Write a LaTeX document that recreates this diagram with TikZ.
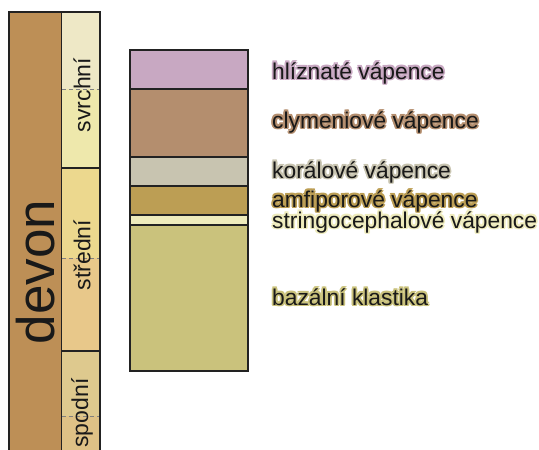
\documentclass[tikz,border=0pt]{standalone}
\usepackage{fontspec}
\setmainfont{Liberation Sans}
\definecolor{devonc}{HTML}{BD8F56}
\definecolor{svrA}{HTML}{EEE8C6}
\definecolor{svrB}{HTML}{EEE8AC}
\definecolor{strA}{HTML}{ECD88E}
\definecolor{strB}{HTML}{E8C88A}
\definecolor{spoA}{HTML}{DEC98E}
\definecolor{spoB}{HTML}{DEC186}
\definecolor{hliz}{HTML}{C8A8C2}
\definecolor{clym}{HTML}{B48E6E}
\definecolor{kora}{HTML}{C8C4B0}
\definecolor{amfi}{HTML}{BC9E54}
\definecolor{stri}{HTML}{EEEBBC}
\definecolor{baza}{HTML}{CAC27C}
\definecolor{frame}{HTML}{222222}
\newcommand{\hlcopy}[3]{\rlap{\kern#1\raisebox{#2}{#3}}}
\newcommand{\halotext}[2]{{\color{#1}%
  \hlcopy{1.8pt}{0pt}{#2}\hlcopy{-1.8pt}{0pt}{#2}%
  \hlcopy{0pt}{1.8pt}{#2}\hlcopy{0pt}{-1.8pt}{#2}%
  \hlcopy{1.3pt}{1.3pt}{#2}\hlcopy{-1.3pt}{1.3pt}{#2}%
  \hlcopy{1.3pt}{-1.3pt}{#2}\hlcopy{-1.3pt}{-1.3pt}{#2}}#2}
\begin{document}
\begin{tikzpicture}[x=1pt,y=-1pt,
  box/.style={draw=frame,line width=1.6pt},
  tick/.style={draw=gray,line width=1pt,dash pattern=on 4pt off 3pt},
  lbl/.style={anchor=base west,inner sep=0pt,text=black!90,font=\fontsize{22.8}{25}\selectfont},
  vlbl/.style={rotate=90,inner sep=0pt,text=black!90,font=\fontsize{23}{25}\selectfont}]
\useasboundingbox (0,0) rectangle (539,450);
% left column: devon
\fill[devonc] (9,12) rectangle (62,460);
\draw[box] (9,460) -- (9,12) -- (62,12) -- (62,460);
\node[vlbl,font=\fontsize{53}{53}\selectfont] (devon) at (36,272) {devon};
% right column: epochs
\fill[svrA] (62,12) rectangle (100,89);
\fill[svrB] (62,89) rectangle (100,168);
\fill[strA] (62,168) rectangle (100,258);
\fill[strB] (62,258) rectangle (100,351);
\fill[spoA] (62,351) rectangle (100,416);
\fill[spoB] (62,416) rectangle (100,460);
\draw[tick] (62,89) -- (100,89);
\draw[tick] (62,258) -- (100,258);
\draw[tick] (62,416) -- (100,416);
\draw[box] (62,12) -- (100,12) -- (100,460);
\draw[box] (62,168) -- (100,168);
\draw[box] (62,351) -- (100,351);
\node[vlbl] (svrchni) at (82,95) {svrchní};
\node[vlbl] (stredni) at (82,255) {střední};
\node[vlbl] (spodni) at (82,413) {spodní};
% middle column: layers
\fill[hliz] (130,50) rectangle (248,89);
\fill[clym] (130,89) rectangle (248,157);
\fill[kora] (130,157) rectangle (248,186);
\fill[amfi] (130,186) rectangle (248,215);
\fill[stri] (130,215) rectangle (248,225);
\fill[baza] (130,225) rectangle (248,371);
\draw[box,line width=1.3pt] (130,50) rectangle (248,371);
\foreach \yy in {89,157,186,215,225} \draw[box,line width=1.3pt] (130,\yy) -- (248,\yy);
% labels
\node[lbl] (lhliz) at (272,79) {\halotext{hliz}{hlíznaté vápence}};
\node[lbl] (lclym) at (272,128) {\halotext{clym}{clymeniové vápence}};
\node[lbl] (lkora) at (272,178) {\halotext{kora}{korálové vápence}};
\node[lbl] (lamfi) at (272,207) {\halotext{amfi}{amfiporové vápence}};
\node[lbl] (lstri) at (272,228) {\halotext{stri}{stringocephalové vápence}};
\node[lbl] (lbaza) at (272,305) {\halotext{baza}{bazální klastika}};
\end{tikzpicture}
\end{document}
